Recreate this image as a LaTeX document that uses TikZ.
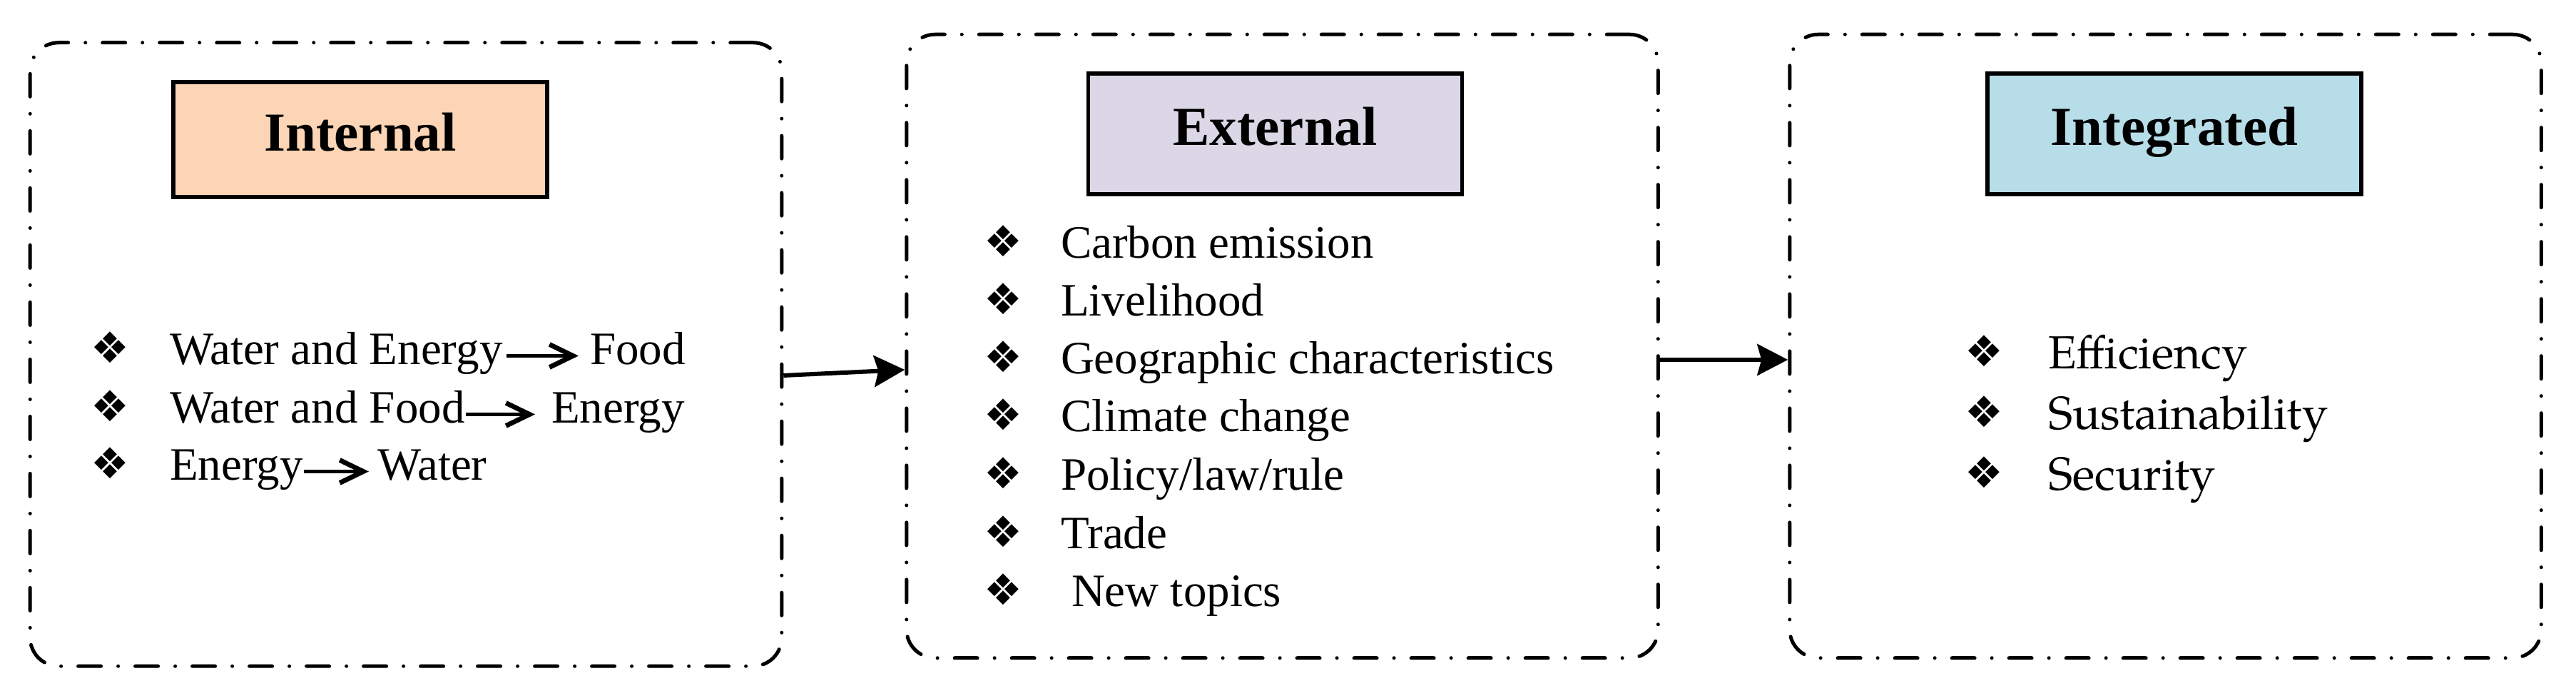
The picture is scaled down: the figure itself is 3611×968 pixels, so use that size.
\documentclass[tikz,border=0pt]{standalone}
\usepackage{fontspec}
\setmainfont{Liberation Serif}
\newfontfamily\palfont{TeX Gyre Pagella}
\newfontfamily\symfont{DejaVu Sans}
\usetikzlibrary{arrows.meta}
\definecolor{peach}{HTML}{FBD5B5}
\definecolor{lavender}{HTML}{DCD7E6}
\definecolor{paleblue}{HTML}{B7DDE8}
\begin{document}
\begin{tikzpicture}[x=0.2pt,y=-0.2pt,
  outerbox/.style={draw, line width=1pt, line cap=round, rounded corners=8pt,
    dash pattern=on 6.4pt off 4.8pt on 0pt off 4.8pt,
    minimum width=210.7pt, minimum height=174.7pt, inner sep=0pt},
  header/.style={draw, line width=1.1pt, font=\fontsize{15.4pt}{18pt}\selectfont\bfseries,
    text height=0.64em, text depth=0pt, inner sep=0pt, minimum width=104.8pt},
  item/.style={anchor=base west, inner sep=0pt, text height=0.75em, text depth=0.25em,
    font=\fontsize{13pt}{15pt}\selectfont},
  palitem/.style={item, font=\fontsize{13pt}{15pt}\selectfont\palfont},
  bullet/.style={inner sep=0pt, font=\fontsize{12pt}{14pt}\selectfont\symfont},
  conn/.style={line width=1.2pt, -{Stealth[length=8.6pt, width=8.8pt, inset=1.2pt]}},
  flow/.style={line width=1.15pt, -{Straight Barb[length=6.6pt, width=6.4pt, line width=1.35pt]}},
]
\fill[white] (0,0) rectangle (3611,968);
\useasboundingbox (0,0) rectangle (3611,968);

% outer dash-dot boxes
\node[outerbox] (b1) at (569,496.5) {};
\node[outerbox] (b2) at (1797.5,485) {};
\node[outerbox] (b3) at (3035.5,485) {};

% headers
\node[header, fill=peach, minimum height=32.2pt] (h1) at (505,195.5) {Internal};
\node[header, fill=lavender, minimum height=33.8pt] (h2) at (1787.5,187.5) {External};
\node[header, fill=paleblue, minimum height=33.8pt] (h3) at (3048,187.5) {Integrated};

% box 1 items
\node[bullet] (k1) at (154,487) {❖};
\node[bullet] (k2) at (154,569) {❖};
\node[bullet] (k3) at (154,649) {❖};
\node[item] (i1a) at (237,511) {Water and Energy};
\node[item] (i1b) at (826,511) {Food};
\node[item] (i2a) at (237,593) {Water and Food};
\node[item] (i2b) at (772,593) {Energy};
\node[item] (i3a) at (237,673) {Energy};
\node[item] (i3b) at (528,673) {Water};
\draw[flow] ([xshift=1pt]i1a.east) -- ([xshift=-3pt]i1b.west);
\draw[flow] (i2a.east) -- ([xshift=-4.4pt]i2b.west);
\draw[flow] (i3a.east) -- ([xshift=-2.2pt]i3b.west);

% box 2 items
\node[bullet] (e1) at (1406,338) {❖};
\node[bullet] (e2) at (1406,419) {❖};
\node[bullet] (e3) at (1406,500) {❖};
\node[bullet] (e4) at (1406,581) {❖};
\node[bullet] (e5) at (1406,663) {❖};
\node[bullet] (e6) at (1406,745) {❖};
\node[bullet] (e7) at (1406,826) {❖};
\node[item] (x1) at (1486,361.5) {Carbon emission};
\node[item] (x2) at (1486,442.6) {Livelihood};
\node[item] (x3) at (1486,523.8) {Geographic characteristics};
\node[item] (x4) at (1486,605) {Climate change};
\node[item] (x5) at (1486,686.8) {Policy/law/rule};
\node[item] (x6) at (1486,768.7) {Trade};
\node[item] (x7) at (1501,850) {New topics};

% box 3 items
\node[bullet] (g1) at (2781,492) {❖};
\node[bullet] (g2) at (2781,577) {❖};
\node[bullet] (g3) at (2781,662) {❖};
\node[palitem] (y1) at (2870,517) {Efficiency};
\node[palitem] (y2) at (2870,602) {Sustainability};
\node[palitem] (y3) at (2870,687) {Security};

% connectors between boxes
\draw[conn] ([yshift=-5.9pt]b1.east) -- ([yshift=-6.6pt]b2.west);
\draw[conn] ([yshift=-3.8pt]b2.east) -- ([yshift=-3.8pt]b3.west);
\end{tikzpicture}
\end{document}
